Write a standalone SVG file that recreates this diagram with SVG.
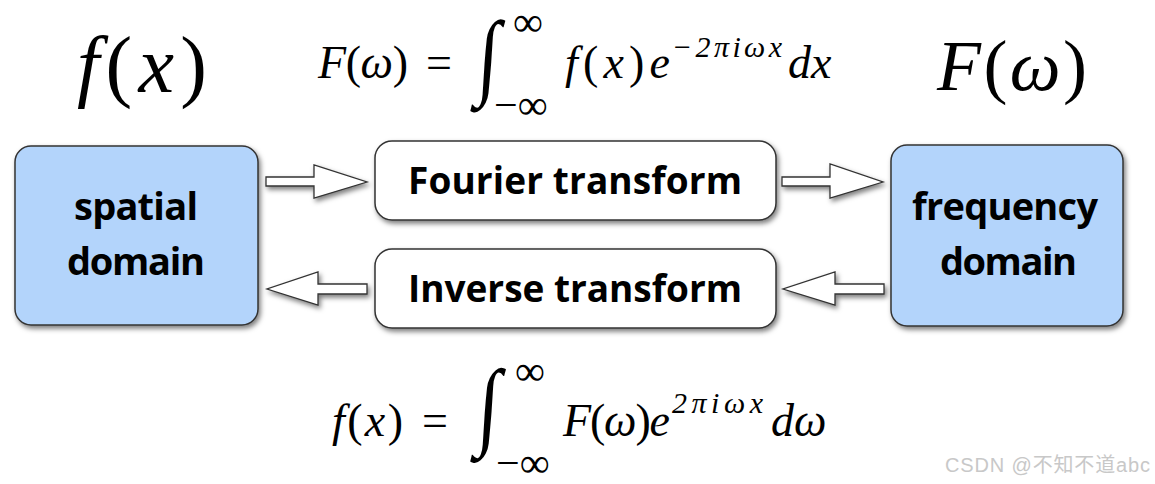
<svg xmlns="http://www.w3.org/2000/svg" width="1155" height="484" viewBox="0 0 1155 484">
<defs>
<filter id="sh" x="-10%" y="-10%" width="130%" height="140%">
<feDropShadow dx="2" dy="3" stdDeviation="2.5" flood-color="#000" flood-opacity="0.5"/>
</filter>
<style>
.dom{fill:#b3d4fb;stroke:#333;stroke-width:1.5}
.tr{fill:#fff;stroke:#333;stroke-width:1.5}
.lbl{font-family:"Open Sans",Lato,sans-serif;font-weight:bold;font-size:38px;fill:#000}
.ar{fill:#fff;stroke:#333;stroke-width:1.3;stroke-linejoin:miter}
.m{font-family:"Liberation Serif",serif;fill:#000}
.i{font-style:italic}
.inf{font-size:42px}
.wm{font-family:"Liberation Sans","Noto Sans CJK SC",sans-serif;font-size:20px;fill:#c8c8c8}
</style>
</defs>
<rect width="1155" height="484" fill="#fff"/>
<g id="spatial">
<rect class="dom" x="15" y="146" width="243" height="179" rx="16" filter="url(#sh)"/>
<text class="lbl" x="74" y="220" textLength="124">spatial</text>
<text class="lbl" x="67" y="275" textLength="138">domain</text>
</g>
<g id="frequency">
<rect class="dom" x="891" y="145" width="232" height="181" rx="16" filter="url(#sh)"/>
<text class="lbl" x="912" y="220" textLength="186">frequency</text>
<text class="lbl" x="940" y="275" textLength="137">domain</text>
</g>
<g id="fourier">
<rect class="tr" x="375" y="141" width="401" height="79" rx="17" filter="url(#sh)"/>
<text class="lbl" x="408" y="194" style="font-size:37px" textLength="334">Fourier transform</text>
</g>
<g id="inverse">
<rect class="tr" x="375" y="249" width="401" height="79" rx="17" filter="url(#sh)"/>
<text class="lbl" x="408" y="302" style="font-size:37px" textLength="334">Inverse transform</text>
</g>
<g id="connectors" filter="url(#sh)">
<polygon class="ar" points="266,177 314,177 314,165 367,182 314,198 314,186 266,186"/>
<polygon class="ar" points="782,177 830,177 830,164 883,182 830,198 830,186 782,186"/>
<polygon class="ar" points="367,284 318,284 318,272 267,289 318,305 318,294 367,294"/>
<polygon class="ar" points="884,284 835,284 835,272 783,289 835,305 835,294 884,294"/>
</g>
<g id="labels">
<text class="m" x="77" y="92" font-size="80" textLength="130"><tspan class="i">f</tspan>(<tspan class="i">x</tspan>)</text>
<text class="m" x="937" y="90" font-size="72" textLength="150"><tspan class="i">F</tspan>(<tspan class="i">ω</tspan>)</text>
</g>
<g id="formula-forward" class="m">
<text x="318" y="78" font-size="46" textLength="90"><tspan class="i">F</tspan>(<tspan class="i">ω</tspan>)</text>
<text x="426" y="78" font-size="46">=</text>
<text x="476" y="87" font-size="95" transform="translate(476 87) skewX(-4) scale(0.8 1) translate(-476 -87)">∫</text>
<text class="inf" x="513" y="36">∞</text>
<text class="inf" x="494" y="119">−∞</text>
<text x="565" y="78" font-size="46" textLength="105"><tspan class="i">f</tspan>(<tspan class="i">x</tspan>)<tspan class="i">e</tspan></text>
<text x="672" y="57" font-size="30" class="i" textLength="110">−2πiωx</text>
<text x="788" y="78" font-size="46" class="i">dx</text>
</g>
<g id="formula-inverse" class="m">
<text x="332" y="436" font-size="46" textLength="71"><tspan class="i">f</tspan>(<tspan class="i">x</tspan>)</text>
<text x="422" y="436" font-size="46">=</text>
<text x="476" y="437" font-size="97" transform="translate(476 437) skewX(-4) scale(0.8 1) translate(-476 -437)">∫</text>
<text class="inf" x="515" y="385">∞</text>
<text class="inf" x="496" y="477">−∞</text>
<text x="563" y="436" font-size="46" textLength="107"><tspan class="i">F</tspan>(<tspan class="i">ω</tspan>)<tspan class="i">e</tspan></text>
<text x="672" y="413" font-size="30" class="i" textLength="91">2πiωx</text>
<text x="771" y="436" font-size="46" class="i">dω</text>
</g>
<text class="wm" x="945" y="472" textLength="205">CSDN @不知不道abc</text>
</svg>
